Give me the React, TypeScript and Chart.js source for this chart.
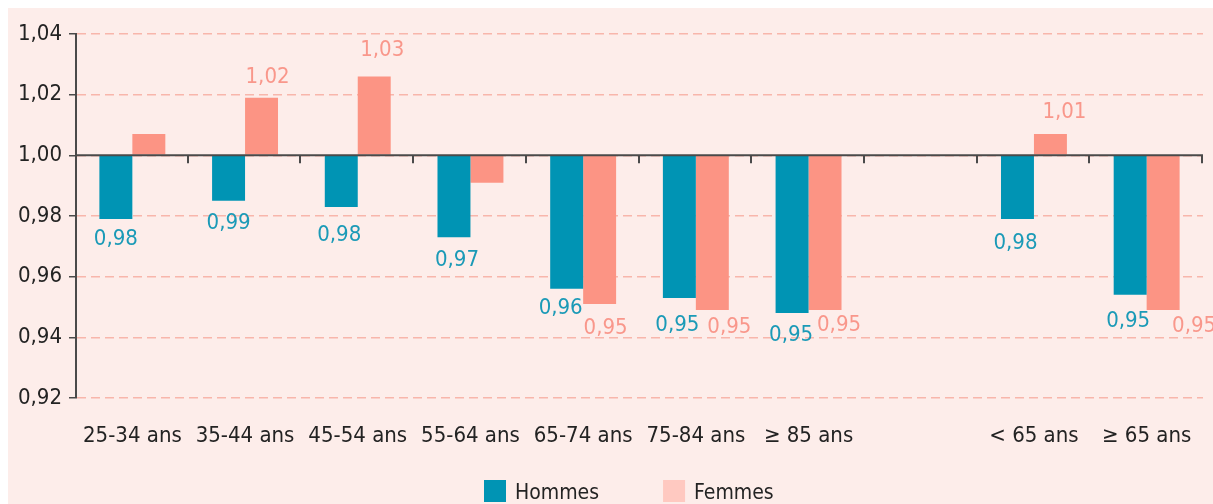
import React, { useEffect, useRef } from "react";
import { Chart, registerables } from "chart.js";

Chart.register(...registerables);

// ---- data ----
const categories = [
  "25-34 ans",
  "35-44 ans",
  "45-54 ans",
  "55-64 ans",
  "65-74 ans",
  "75-84 ans",
  "≥ 85 ans",
  "",
  "< 65 ans",
  "≥ 65 ans",
];
const hommes = [0.979, 0.985, 0.983, 0.973, 0.956, 0.953, 0.948, null, 0.979, 0.954];
const femmes = [1.007, 1.019, 1.026, 0.991, 0.951, 0.949, 0.949, null, 1.007, 0.949];
const hommesLabels = ["0,98", "0,99", "0,98", "0,97", "0,96", "0,95", "0,95", null, "0,98", "0,95"];
const femmesLabels = [null, "1,02", "1,03", null, "0,95", "0,95", "0,95", null, "1,01", "0,95"];
const seriesNames = ["Hommes", "Femmes"];
const yMin = 0.92;
const yMax = 1.04;
const yStep = 0.02;
const baseValue = 1;

// ---- style ----
const FONT = "'DejaVu Sans Condensed', 'Liberation Sans', sans-serif";
const FS = 22;
const FS_LEGEND = 21;
const C_H = "#0094B4";
const C_F = "#FC9484";
const C_H_TXT = "#1B9AB7";
const C_F_TXT = "#F9978B";
const C_F_LEGEND = "#FFC9C1";
const C_GRID = "#F8B6AB";
const C_AXIS = "#4a4a4a";
const C_TEXT = "#232323";
const BG = "#FDEDEA";

// label nudges relative to bar end (dx, dy of text centre)
const hommesNudge: [number, number][] = [
  [0, 18], [0, 20], [-2, 26], [3, 21], [-6, 17], [-2, 25], [-1, 20], [0, 0], [-2, 22], [-2, 24],
];
const femmesNudge: [number, number][] = [
  [0, 0], [6, -23], [8, -28], [0, 0], [6, 22], [17, 15], [14, 13], [0, 0], [14, -24], [31, 14],
];

const fmt = (v: number) => v.toFixed(2).replace(".", ",");

const valueLabelsPlugin = {
  id: "valueLabels",
  afterDatasetsDraw(chart: any) {
    const ctx = chart.ctx;
    ctx.save();
    ctx.font = `${FS}px ${FONT}`;
    ctx.textAlign = "center";
    ctx.textBaseline = "alphabetic";
    const sets = [
      { labels: hommesLabels, nudge: hommesNudge, color: C_H_TXT },
      { labels: femmesLabels, nudge: femmesNudge, color: C_F_TXT },
    ];
    sets.forEach((s, di) => {
      const meta = chart.getDatasetMeta(di);
      meta.data.forEach((bar: any, i: number) => {
        const txt = s.labels[i];
        if (!txt || bar == null) return;
        const [dx, dy] = s.nudge[i];
        ctx.fillStyle = s.color;
        ctx.fillText(txt, bar.x + dx, bar.y + dy + FS * 0.36);
      });
    });
    ctx.restore();
  },
};

const baselinePlugin = {
  id: "baseline",
  afterDatasetsDraw(chart: any) {
    const { ctx, chartArea, scales } = chart;
    const y = scales.y.getPixelForValue(baseValue);
    const n = categories.length;
    const w = (chartArea.right - chartArea.left) / n;
    ctx.save();
    ctx.strokeStyle = C_AXIS;
    ctx.lineWidth = 2;
    ctx.beginPath();
    ctx.moveTo(chartArea.left, y);
    ctx.lineTo(chartArea.right, y);
    ctx.stroke();
    for (let i = 1; i <= n; i++) {
      const x = Math.round(chartArea.left + i * w) - 1;
      ctx.beginPath();
      ctx.moveTo(x, y);
      ctx.lineTo(x, y + 8);
      ctx.stroke();
    }
    ctx.restore();
  },
};

const legendPlugin = {
  id: "customLegend",
  afterDraw(chart: any) {
    const ctx = chart.ctx;
    ctx.save();
    ctx.font = `${FS_LEGEND}px ${FONT}`;
    ctx.textBaseline = "alphabetic";
    ctx.textAlign = "left";
    const items = [
      { text: seriesNames[0], color: C_H },
      { text: seriesNames[1], color: C_F_LEGEND },
    ];
    const box = 22;
    const gap = 9;
    const itemGap = 64;
    const widths = items.map((it) => box + gap + ctx.measureText(it.text).width);
    const total = widths.reduce((a, b) => a + b, 0) + itemGap * (items.length - 1);
    let x = Math.round(chart.width / 2 - total / 2 + 18);
    const cy = 483;
    items.forEach((it, i) => {
      ctx.fillStyle = it.color;
      ctx.fillRect(x, cy - box / 2, box, box);
      ctx.fillStyle = C_TEXT;
      ctx.fillText(it.text, x + box + gap, cy + FS_LEGEND * 0.36);
      x += widths[i] + itemGap;
    });
    ctx.restore();
  },
};

export default function App() {
  const ref = useRef<HTMLCanvasElement | null>(null);
  useEffect(() => {
    if (!ref.current) return;
    const chart = new Chart(ref.current, {
      type: "bar",
      data: {
        labels: categories,
        datasets: [
          {
            label: seriesNames[0],
            data: hommes as any,
            backgroundColor: C_H,
            borderWidth: 0,
            base: baseValue,
            categoryPercentage: 0.585,
            barPercentage: 1,
          } as any,
          {
            label: seriesNames[1],
            data: femmes as any,
            backgroundColor: C_F,
            borderWidth: 0,
            base: baseValue,
            categoryPercentage: 0.585,
            barPercentage: 1,
          } as any,
        ],
      },
      options: {
        responsive: false,
        animation: false,
        layout: { padding: { top: 26, right: 10, bottom: 46, left: 0 } },
        plugins: {
          legend: { display: false },
          tooltip: { enabled: false },
          title: { display: false },
        },
        scales: {
          x: {
            grid: { display: false, drawTicks: false },
            border: { display: false },
            ticks: {
              color: C_TEXT,
              font: { family: FONT, size: FS },
              padding: 25,
              maxRotation: 0,
              autoSkip: false,
            },
            afterFit: (s: any) => {
              s.height = 60;
              s.paddingLeft = 0;
              s.paddingRight = 0;
            },
          },
          y: {
            min: yMin,
            max: yMax,
            ticks: {
              stepSize: yStep,
              color: C_TEXT,
              font: { family: FONT, size: FS },
              padding: 7,
              callback: (v: any) => fmt(Number(v)),
            },
            grid: {
              color: C_GRID,
              lineWidth: 1.5,
              tickColor: C_AXIS,
              tickLength: 7,
              tickWidth: 1.5,
            },
            border: { display: true, color: C_AXIS, width: 2, dash: [9, 5] },
            afterFit: (s: any) => {
              s.width = 68;
            },
          },
        },
      },
      plugins: [baselinePlugin, valueLabelsPlugin, legendPlugin],
    });
    return () => chart.destroy();
  }, []);

  return (
    <div
      style={{
        position: "fixed",
        left: 8,
        top: 8,
        width: 1205,
        height: 496,
        background: BG,
      }}
    >
      <canvas ref={ref} width={1205} height={496} style={{ display: "block" }} />
    </div>
  );
}
